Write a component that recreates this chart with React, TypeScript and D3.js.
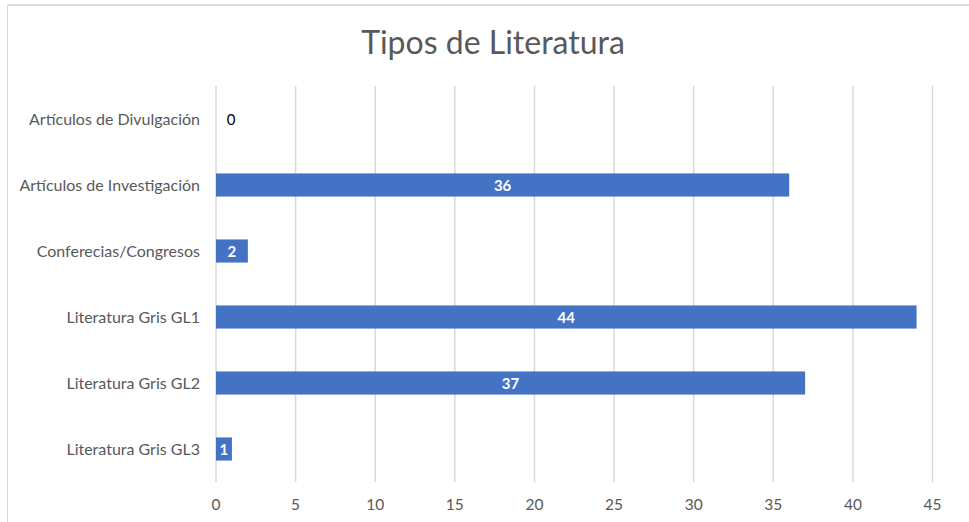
import React from "react";
import * as d3 from "d3";

const categories = [
  "Artículos de Divulgación",
  "Artículos de Investigación",
  "Conferecias/Congresos",
  "Literatura Gris GL1",
  "Literatura Gris GL2",
  "Literatura Gris GL3",
];
const values = [0, 36, 2, 44, 37, 1];
const xTicks = [0, 5, 10, 15, 20, 25, 30, 35, 40, 45];
const title = "Tipos de Literatura";

const W = 969;
const H = 522;
const FONT = "Lato, 'Open Sans', sans-serif";

export default function App() {
  const x = d3.scaleLinear().domain([0, 45]).range([216, 932.5]);
  const y = d3
    .scaleBand<string>()
    .domain(categories)
    .range([86, 482])
    .paddingInner(0.65)
    .paddingOuter(0.325);
  const bw = y.bandwidth();

  return (
    <svg
      width={W}
      height={H}
      style={{ position: "absolute", left: 0, top: 0, background: "#fff" }}
      fontFamily={FONT}
    >
      <rect x={0} y={0} width={W} height={H} fill="#fff" />
      {/* chart border */}
      <line x1={7.5} y1={5} x2={W} y2={5} stroke="#d9d9d9" strokeWidth={2} />
      <line x1={7.5} y1={5} x2={7.5} y2={H} stroke="#d9d9d9" strokeWidth={1} />

      <text
        x={493}
        y={54}
        textAnchor="middle"
        fontSize={32}
        fill="#595959"
      >
        {title}
      </text>

      {xTicks.map((t) => (
        <g key={t}>
          <line
            x1={x(t)}
            x2={x(t)}
            y1={86}
            y2={482}
            stroke="#d9d9d9"
            strokeWidth={1.5}
          />
          <text
            x={x(t)}
            y={510}
            textAnchor="middle"
            fontSize={15.5}
            fill="#595959"
          >
            {t}
          </text>
        </g>
      ))}

      {categories.map((c, i) => {
        const v = values[i];
        const yc = (y(c) as number) + bw / 2;
        return (
          <g key={c}>
            <text
              x={200}
              y={yc + 5.5}
              textAnchor="end"
              fontSize={16}
              fill="#595959"
            >
              {c}
            </text>
            {v > 0 && (
              <rect
                x={x(0)}
                y={y(c) as number}
                width={x(v) - x(0)}
                height={bw}
                fill="#4472C4"
              />
            )}
            <text
              x={v > 0 ? (x(0) + x(v)) / 2 : x(0) + 15}
              y={yc + 5.5}
              textAnchor="middle"
              fontSize={15}
              fontWeight={v > 0 ? "bold" : "normal"}
              fill={v > 0 ? "#ffffff" : "#000000"}
            >
              {v}
            </text>
          </g>
        );
      })}
    </svg>
  );
}
